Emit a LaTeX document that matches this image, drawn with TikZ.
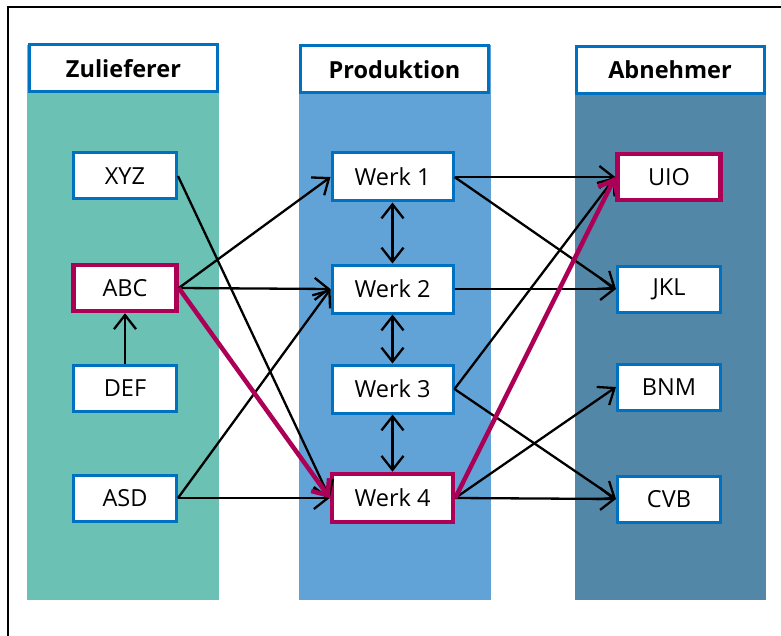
\documentclass[tikz,border=0pt]{standalone}
\usepackage{fontspec}
\setmainfont{Open Sans}
\usetikzlibrary{arrows.meta}
\definecolor{colA}{RGB}{106,193,180}
\definecolor{colB}{RGB}{97,163,215}
\definecolor{colC}{RGB}{83,135,168}
\definecolor{bluebd}{RGB}{0,112,192}
\definecolor{mag}{RGB}{172,0,86}
\tikzset{
  box/.style={draw=bluebd,line width=3pt,fill=white,minimum width=103pt,minimum height=46pt,inner sep=0pt,font=\fontsize{23.5}{28}\selectfont},
  wbox/.style={box,minimum width=121pt,minimum height=48pt},
  hbox/.style={box,minimum width=188pt,minimum height=47pt,font=\fontsize{23.5}{28}\selectfont\bfseries},
  hot/.style={draw=mag,line width=4.5pt},
  conn/.style={line width=2.3pt,-{Straight Barb[length=14pt,width=22pt]}},
  dconn/.style={line width=2.3pt,{Straight Barb[length=14pt,width=22pt]}-{Straight Barb[length=14pt,width=22pt]}},
  hconn/.style={draw=mag,line width=4.5pt,-{Straight Barb[length=13pt,width=22pt]}},
}
\begin{document}
\begin{tikzpicture}[x=1pt,y=-1pt]
\useasboundingbox (0,0) rectangle (781,636);
% columns
\fill[colA] (27,45) rectangle (219,600);
\fill[colB] (299,45) rectangle (491,600);
\fill[colC] (575,45) rectangle (766,600);
% frame
\draw[line width=2pt] (8,640) -- (8,7) -- (790,7);
% headers
\node[hbox] (h1) at (123.5,68.5) {Zulieferer};
\node[hbox] (h2) at (394.5,69.5) {Produktion};
\node[hbox] (h3) at (670,70) {Abnehmer};
% left
\node[box] (xyz) at (125,176) {XYZ};
\node[box,hot] (abc) at (125,288) {ABC};
\node[box] (def) at (125,388) {DEF};
\node[box] (asd) at (125,498) {ASD};
% middle
\node[wbox] (w1) at (392.5,177) {Werk 1};
\node[wbox] (w2) at (392.5,289) {Werk 2};
\node[wbox] (w3) at (392.5,389) {Werk 3};
\node[wbox,hot] (w4) at (392.5,498) {Werk 4};
% right
\node[box,hot] (uio) at (669,177) {UIO};
\node[box] (jkl) at (669,289) {JKL};
\node[box] (bnm) at (669,387) {BNM};
\node[box] (cvb) at (669,499) {CVB};
% connectors
\draw[conn] (def.north) -- (abc.south);
\draw[conn] (xyz.east) -- (w4.west);
\draw[conn] (abc.east) -- (w1.west);
\draw[conn] (abc.east) -- (w2.west);
\draw[conn] (asd.east) -- (w2.west);
\draw[conn] (asd.east) -- (w4.west);
\draw[dconn] (w1.south) -- (w2.north);
\draw[dconn] (w2.south) -- (w3.north);
\draw[dconn] (w3.south) -- (w4.north);
\draw[conn] (w1.east) -- (uio.west);
\draw[conn] (w1.east) -- (jkl.west);
\draw[conn] (w2.east) -- (jkl.west);
\draw[conn] (w3.east) -- (uio.west);
\draw[conn] (w3.east) -- (cvb.west);
\draw[conn] (w4.east) -- (bnm.west);
\draw[conn] (w4.east) -- (cvb.west);
\draw[hconn] (abc.east) -- (w4.west);
\draw[hconn] (w4.east) -- (uio.west);
\end{tikzpicture}
\end{document}
